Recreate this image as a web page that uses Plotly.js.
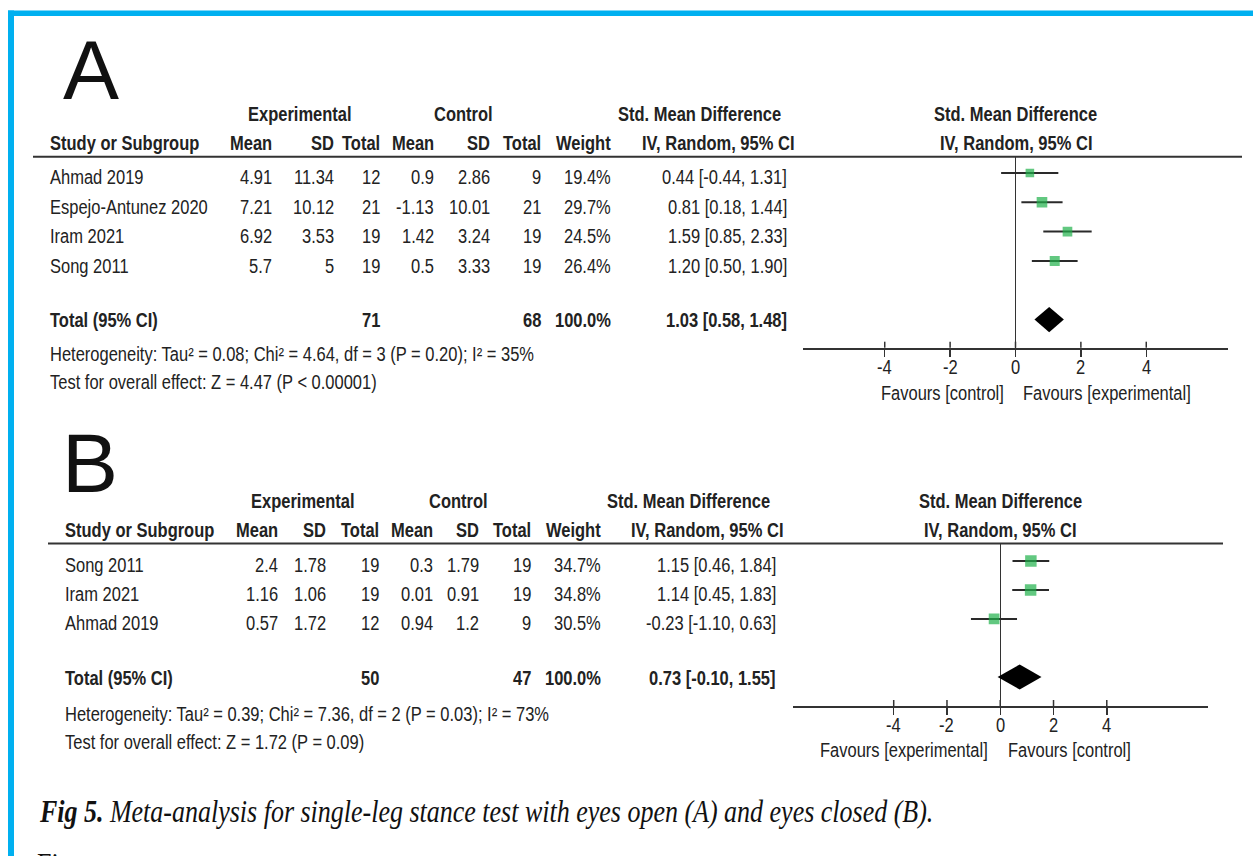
<!DOCTYPE html>
<html><head><meta charset="utf-8">
<script src="https://cdn.plot.ly/plotly-3.0.1.min.js"></script>
<style>
html,body{margin:0;padding:0;background:#fff}
/* the reference is a vertically stretched scan: stretch the table texts the same way */
.annotation-text:not([style*="84px"]){transform-box:fill-box;transform-origin:50% 50%;transform:scaleY(1.2);}
</style>
</head><body><div id="chart" style="width:1253px;height:856px"></div>
<script>
// ---------- Panel A data (eyes open) ----------
const studiesA = ["Ahmad 2019", "Espejo-Antunez 2020", "Iram 2021", "Song 2011"];
const expMeanA = [4.91, 7.21, 6.92, 5.7];
const expSDA   = [11.34, 10.12, 3.53, 5];
const expNA    = [12, 21, 19, 19];
const ctlMeanA = [0.9, -1.13, 1.42, 0.5];
const ctlSDA   = [2.86, 10.01, 3.24, 3.33];
const ctlNA    = [9, 21, 19, 19];
const weightA  = [19.4, 29.7, 24.5, 26.4];
const smdA     = [0.44, 0.81, 1.59, 1.20];
const loA      = [-0.44, 0.18, 0.85, 0.50];
const hiA      = [1.31, 1.44, 2.33, 1.90];
const totalNA  = [71, 68];
const pooledA  = [1.03, 0.58, 1.48];
const hetA  = "Heterogeneity: Tau² = 0.08; Chi² = 4.64, df = 3 (P = 0.20); I² = 35%";
const testA = "Test for overall effect: Z = 4.47 (P < 0.00001)";
const favoursA = ["Favours [control]", "Favours [experimental]"];

// ---------- Panel B data (eyes closed) ----------
const studiesB = ["Song 2011", "Iram 2021", "Ahmad 2019"];
const expMeanB = [2.4, 1.16, 0.57];
const expSDB   = [1.78, 1.06, 1.72];
const expNB    = [19, 19, 12];
const ctlMeanB = [0.3, 0.01, 0.94];
const ctlSDB   = [1.79, 0.91, 1.2];
const ctlNB    = [19, 19, 9];
const weightB  = [34.7, 34.8, 30.5];
const smdB     = [1.15, 1.14, -0.23];
const loB      = [0.46, 0.45, -1.10];
const hiB      = [1.84, 1.83, 0.63];
const totalNB  = [50, 47];
const pooledB  = [0.73, -0.10, 1.55];
const hetB  = "Heterogeneity: Tau² = 0.39; Chi² = 7.36, df = 2 (P = 0.03); I² = 73%";
const testB = "Test for overall effect: Z = 1.72 (P = 0.09)";
const favoursB = ["Favours [experimental]", "Favours [control]"];

const tickVals = [-4, -2, 0, 2, 4];
const tickText = ["-4", "-2", "0", "2", "4"];
const caption = ["Fig 5.", "Meta-analysis for single-leg stance test with eyes open (A) and eyes closed (B)."];

// ---------- layout helpers ----------
const W = 1253, H = 856;
const FONT = "'Liberation Sans', Arial, sans-serif";
const FS = 16.5;
const TXT = '#222';
const px = x => x / W;
const py = y => 1 - y / H;
const annotations = [];
const shapes = [];
function T(text, x, y, anchor, opts) {
  opts = opts || {};
  annotations.push({
    xref: opts.xref || 'paper', yref: 'paper',
    x: opts.xref ? x : px(x), y: py(y),
    xanchor: anchor, yanchor: 'middle', showarrow: false,
    text: opts.bold ? '<b>' + text + '</b>' : text,
    font: {family: opts.family || FONT, size: opts.size || FS, color: opts.color || TXT}
  });
}
const f2 = v => v.toFixed(2);
const ci = (e, l, h) => f2(e) + ' [' + f2(l) + ', ' + f2(h) + ']';

function panel(cfg) {
  const c = cfg.cols;
  T(cfg.letter, cfg.letterX, cfg.letterY, 'center', {family: "'Liberation Sans', Arial, sans-serif", size: 84, color: '#111'});
  // header row 1
  T('Experimental', c.expHead, cfg.h1, 'center', {bold: true});
  T('Control', c.ctlHead, cfg.h1, 'center', {bold: true});
  T('Std. Mean Difference', c.smdHead, cfg.h1, 'right', {bold: true});
  T('Std. Mean Difference', 0, cfg.h1, 'center', {bold: true, xref: cfg.xaxis});
  // header row 2
  T('Study or Subgroup', c.study, cfg.h2, 'left', {bold: true});
  T('Mean', c.expMean, cfg.h2, 'right', {bold: true});
  T('SD', c.expSD, cfg.h2, 'right', {bold: true});
  T('Total', c.expN, cfg.h2, 'right', {bold: true});
  T('Mean', c.ctlMean, cfg.h2, 'right', {bold: true});
  T('SD', c.ctlSD, cfg.h2, 'right', {bold: true});
  T('Total', c.ctlN, cfg.h2, 'right', {bold: true});
  T('Weight', c.weight, cfg.h2, 'right', {bold: true});
  T('IV, Random, 95% CI', c.ciHead, cfg.h2, 'right', {bold: true});
  T('IV, Random, 95% CI', 0, cfg.h2, 'center', {bold: true, xref: cfg.xaxis});
  shapes.push({type: 'line', xref: 'paper', yref: 'paper', x0: px(cfg.ruleX0), x1: px(cfg.ruleX1),
    y0: py(cfg.ruleY), y1: py(cfg.ruleY), line: {color: '#333', width: 2}});
  const d = cfg.data;
  d.studies.forEach((s, i) => {
    const y = cfg.rowY0 + i * cfg.rowStep;
    T(s, c.study, y, 'left');
    T(String(d.expMean[i]), c.expMean, y, 'right');
    T(String(d.expSD[i]), c.expSD, y, 'right');
    T(String(d.expN[i]), c.expN, y, 'right');
    T(String(d.ctlMean[i]), c.ctlMean, y, 'right');
    T(String(d.ctlSD[i]), c.ctlSD, y, 'right');
    T(String(d.ctlN[i]), c.ctlN, y, 'right');
    T(d.weight[i].toFixed(1) + '%', c.weight, y, 'right');
    T(ci(d.smd[i], d.lo[i], d.hi[i]), c.ci, y, 'right');
  });
  T('Total (95% CI)', c.study, cfg.totY, 'left', {bold: true});
  T(String(d.totalN[0]), c.expN, cfg.totY, 'right', {bold: true});
  T(String(d.totalN[1]), c.ctlN, cfg.totY, 'right', {bold: true});
  T('100.0%', c.weight, cfg.totY, 'right', {bold: true});
  T(ci(d.pooled[0], d.pooled[1], d.pooled[2]), c.ci, cfg.totY, 'right', {bold: true});
  T(d.het, c.study, cfg.hetY, 'left');
  T(d.test, c.study, cfg.testY, 'left');
  T(d.favours[0], cfg.favL, cfg.favY, 'right');
  T(d.favours[1], cfg.favR, cfg.favY, 'left');
  // tick labels through the forest axis scale
  tickVals.forEach((t, k) => T(tickText[k], t, cfg.tickY, 'center', {xref: cfg.xaxis}));
  // upper half of ticks (ticks cross the axis line)
  tickVals.forEach(t => shapes.push({type: 'line', xref: cfg.xaxis, yref: 'paper', x0: t, x1: t,
    y0: py(cfg.axisY), y1: py(cfg.axisY - 6), line: {color: '#333', width: 1.5}}));
}

const dataA = {studies: studiesA, expMean: expMeanA, expSD: expSDA, expN: expNA, ctlMean: ctlMeanA,
  ctlSD: ctlSDA, ctlN: ctlNA, weight: weightA, smd: smdA, lo: loA, hi: hiA, totalN: totalNA,
  pooled: pooledA, het: hetA, test: testA, favours: favoursA};
const dataB = {studies: studiesB, expMean: expMeanB, expSD: expSDB, expN: expNB, ctlMean: ctlMeanB,
  ctlSD: ctlSDB, ctlN: ctlNB, weight: weightB, smd: smdB, lo: loB, hi: hiB, totalN: totalNB,
  pooled: pooledB, het: hetB, test: testB, favours: favoursB};

panel({letter: 'A', letterX: 91, letterY: 70, h1: 115, h2: 144, xaxis: 'x',
  cols: {study: 48, expMean: 274, expSD: 336, expN: 382, ctlMean: 436, ctlSD: 492, ctlN: 543,
    weight: 613, ci: 789, expHead: 300, ctlHead: 463, smdHead: 783, ciHead: 796},
  ruleX0: 33, ruleX1: 1242, ruleY: 156.7, rowY0: 178, rowStep: 29.5, totY: 321, hetY: 355, testY: 383,
  favL: 1006, favR: 1021, favY: 394, axisY: 347.7, tickY: 368, data: dataA});
panel({letter: 'B', letterX: 90, letterY: 463, h1: 502, h2: 531, xaxis: 'x2',
  cols: {study: 63, expMean: 280, expSD: 328, expN: 381, ctlMean: 435, ctlSD: 481, ctlN: 533,
    weight: 603, ci: 778, expHead: 303, ctlHead: 458, smdHead: 772, ciHead: 785},
  ruleX0: 48, ruleX1: 1223, ruleY: 543.5, rowY0: 566, rowStep: 29, totY: 679, hetY: 715, testY: 743,
  favL: 990, favR: 1006, favY: 751, axisY: 706, tickY: 726, data: dataB});

// caption
annotations.push({xref: 'paper', yref: 'paper', x: px(37), y: py(812), xanchor: 'left', yanchor: 'middle',
  showarrow: false, text: '<b><i>' + caption[0] + '</i></b><i> ' + caption[1] + '</i>',
  font: {family: "'Liberation Serif', 'Times New Roman', serif", size: 26, color: '#111'}});
annotations.push({xref: 'paper', yref: 'paper', x: px(35), y: py(845), xanchor: 'left', yanchor: 'top',
  showarrow: false, text: 'Figure', font: {family: "'Liberation Serif', serif", size: 26, color: '#111'}});

// blue frame
shapes.push({type: 'rect', xref: 'paper', yref: 'paper', x0: px(8), x1: 1.01, y0: py(16), y1: py(10.5),
  fillcolor: '#00b0f0', line: {width: 0}});
shapes.push({type: 'rect', xref: 'paper', yref: 'paper', x0: px(8), x1: px(14), y0: -0.01, y1: py(10.5),
  fillcolor: '#00b0f0', line: {width: 0}});

// ---------- forest traces ----------
function forestTraces(d, xa, ya, poolRow, halfH) {
  const cx = [], cy = [];
  d.smd.forEach((_, i) => { cx.push(d.lo[i], d.hi[i], null); cy.push(i, i, null); });
  const p = d.pooled;
  return [
    {type: 'scatter', mode: 'lines', x: cx, y: cy, xaxis: xa, yaxis: ya,
      line: {color: '#2a2a2a', width: 2}, hoverinfo: 'skip'},
    {type: 'scatter', mode: 'markers', x: d.smd, y: d.smd.map((_, i) => i), xaxis: xa, yaxis: ya,
      marker: {symbol: 'square', color: '#1fb04a', size: d.weight.map(w => Math.sqrt(w) * 1.95), line: {width: 0}}},
    {type: 'scatter', mode: 'lines', fill: 'toself', fillcolor: '#000', xaxis: xa, yaxis: ya,
      x: [p[1], p[0], p[2], p[0], p[1]],
      y: [poolRow, poolRow - halfH, poolRow, poolRow + halfH, poolRow], line: {width: 0, color: '#000'}}
  ];
}
const traces = [].concat(
  forestTraces(dataA, 'x', 'y', studiesA.length + 1, 0.43),
  forestTraces(dataB, 'x2', 'y2', studiesB.length + 1, 0.43)
);

const axisCommon = {
  tickvals: tickVals, ticks: 'outside', ticklen: 7, tickwidth: 1.5, tickcolor: '#333', showticklabels: false,
  showline: true, linecolor: '#333', linewidth: 2, zeroline: true, zerolinecolor: '#333', zerolinewidth: 1.5,
  showgrid: false, fixedrange: true
};
const yCommon = {showticklabels: false, showgrid: false, zeroline: false, showline: false, ticks: ''};

const layout = {
  width: W, height: H, margin: {l: 0, r: 0, t: 0, b: 0},
  paper_bgcolor: '#fff', plot_bgcolor: 'rgba(0,0,0,0)', showlegend: false,
  xaxis: Object.assign({}, axisCommon, {domain: [px(803), px(1228)], range: [-6.5, 6.5], anchor: 'y'}),
  yaxis: Object.assign({}, yCommon, {domain: [py(347.7), py(156.7)], range: [5.96, -0.556]}),
  xaxis2: Object.assign({}, axisCommon, {domain: [px(792.5), px(1208)], range: [-7.8, 7.8], anchor: 'y2'}),
  yaxis2: Object.assign({}, yCommon, {domain: [py(706), py(543.5)], range: [5.0, -0.6]}),
  annotations: annotations, shapes: shapes
};
Plotly.newPlot('chart', traces, layout, {displayModeBar: false, staticPlot: true});
</script></body></html>
